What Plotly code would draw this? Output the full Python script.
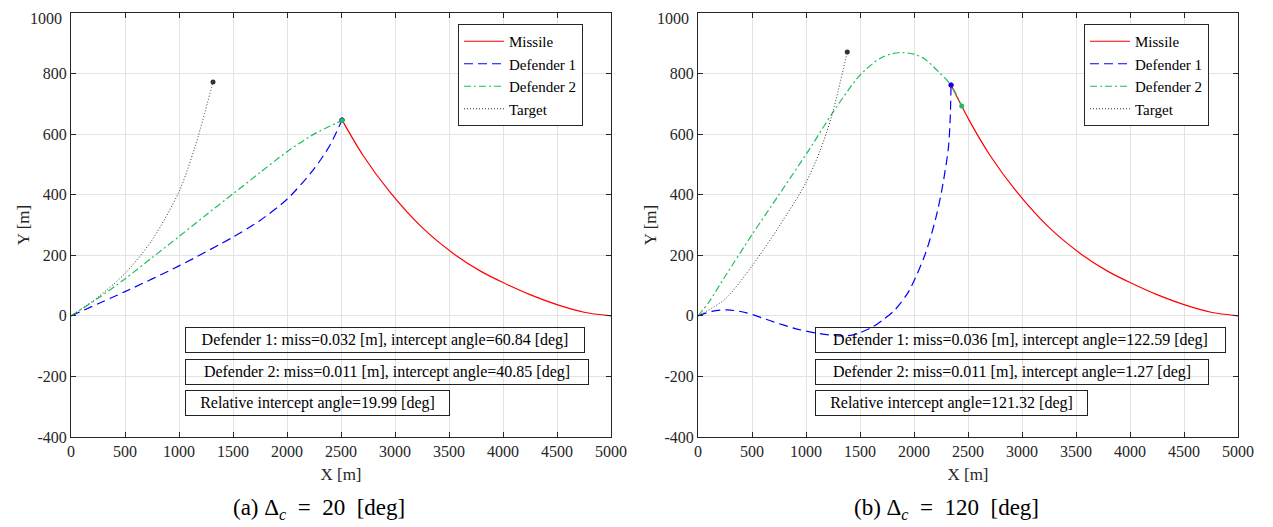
import plotly.graph_objects as go

# ---------------- data ----------------
# Missile trajectory (shared by both panels, truncated at the intercept)
missile_x = [2343, 2509, 2700, 2950, 3250, 3555, 3800, 4000, 4250, 4500, 4750, 5000]
missile_y = [762, 647, 532, 410, 292, 202, 146, 110, 70, 37, 12, 0]

# Panel (a): Delta_c = 20 deg
a_missile_x = missile_x[1:]
a_missile_y = missile_y[1:]
a_def1_x = [0, 500, 1000, 1500, 1750, 2000, 2250, 2400, 2509]
a_def1_y = [0, 80, 165, 260, 315, 385, 485, 565, 647]
a_def2_x = [0, 250, 500, 750, 1000, 1250, 1500, 1750, 2000, 2250, 2509]
a_def2_y = [0, 58, 122, 192, 262, 333, 403, 473, 542, 600, 645]
a_tgt_x = [0, 250, 500, 750, 1000, 1150, 1315]
a_tgt_y = [0, 62, 140, 250, 410, 560, 772]

# Panel (b): Delta_c = 120 deg
b_missile_x = missile_x
b_missile_y = missile_y
b_def1_x = [0, 130, 270, 450, 700, 900, 1083, 1300, 1435, 1600, 1713, 1824, 1950, 2100, 2200, 2260, 2318, 2335, 2343]
b_def1_y = [0, 15, 20, 10, -20, -42, -56, -66, -63, -40, -13, 20, 80, 200, 320, 420, 553, 650, 762]
b_def2_x = [0, 100, 250, 500, 750, 1037, 1253, 1500, 1685, 1800, 1901, 2000, 2100, 2241, 2343, 2442]
b_def2_y = [0, 45, 130, 268, 400, 553, 674, 795, 850, 866, 869, 864, 848, 801, 762, 693]
b_tgt_x = [0, 250, 500, 750, 1000, 1130, 1238, 1382]
b_tgt_y = [0, 55, 165, 295, 440, 545, 660, 871]

a_texts = ["Defender 1: miss=0.032 [m], intercept angle=60.84 [deg]",
           "Defender 2: miss=0.011 [m], intercept angle=40.85 [deg]",
           "Relative intercept angle=19.99 [deg]"]
b_texts = ["Defender 1: miss=0.036 [m], intercept angle=122.59 [deg]",
           "Defender 2: miss=0.011 [m], intercept angle=1.27 [deg]",
           "Relative intercept angle=121.32 [deg]"]
captions = ["(a)&nbsp;Δ<sub><i>c</i></sub>&nbsp;&nbsp;=&nbsp;&nbsp;20&nbsp;&nbsp;[deg]",
            "(b)&nbsp;Δ<sub><i>c</i></sub>&nbsp;&nbsp;=&nbsp;&nbsp;120&nbsp;&nbsp;[deg]"]
series_names = ["Missile", "Defender 1", "Defender 2", "Target"]
x_ticks = list(range(0, 5001, 500))
y_ticks = list(range(-400, 1001, 200))
# the top label (1000) is drawn separately so that it stays inside the page
y_ticktext = [str(v) if v != y_ticks[-1] else "" for v in y_ticks]

# ---------------- styling ----------------
OFF = 8                      # page body margin of the browser
W, H = 1273 - OFF, 527 - OFF
RED = "#ff0000"
BLUE = "#0000ff"
GREEN = "rgb(30,190,90)"
TGT = "#333333"
FONT = "Liberation Serif"
AX = "#262626"
PLOT_TOP, PLOT_BOT = 13, 437  # screen pixels of the plot area
PH = PLOT_BOT - PLOT_TOP

def px_x(p):
    return (p - OFF) / W

def px_y(p):
    return (PLOT_BOT - p) / PH

fig = go.Figure()

def add_panel(xa, ya, leg, mx, my, d1x, d1y, d2x, d2y, tx, ty):
    common = dict(xaxis=xa, yaxis=ya, legend=leg, mode="lines", hoverinfo="skip")
    fig.add_trace(go.Scatter(x=mx, y=my, name=series_names[0],
                             line=dict(color=RED, width=1.2, shape="spline", smoothing=0.8), **common))
    fig.add_trace(go.Scatter(x=d1x, y=d1y, name=series_names[1],
                             line=dict(color=BLUE, width=1.2, dash="9px,5px", shape="spline", smoothing=0.8), **common))
    fig.add_trace(go.Scatter(x=d2x, y=d2y, name=series_names[2],
                             line=dict(color=GREEN, width=1.2, dash="7px,3px,2px,3px", shape="spline", smoothing=0.8), **common))
    fig.add_trace(go.Scatter(x=tx, y=ty, name=series_names[3],
                             line=dict(color=TGT, width=1, dash="1px,2px", shape="spline", smoothing=0.8), **common))
    # end-point markers
    mk = dict(xaxis=xa, yaxis=ya, mode="markers", showlegend=False, hoverinfo="skip")
    fig.add_trace(go.Scatter(x=[mx[0]], y=[my[0]], marker=dict(color=RED, size=5), **mk))
    fig.add_trace(go.Scatter(x=[d1x[-1]], y=[d1y[-1]], marker=dict(color=BLUE, size=5), **mk))
    fig.add_trace(go.Scatter(x=[d2x[-1]], y=[d2y[-1]], marker=dict(color=GREEN, size=5), **mk))
    fig.add_trace(go.Scatter(x=[tx[-1]], y=[ty[-1]], marker=dict(color=TGT, size=5), **mk))

add_panel("x", "y", "legend", a_missile_x, a_missile_y, a_def1_x, a_def1_y,
          a_def2_x, a_def2_y, a_tgt_x, a_tgt_y)
add_panel("x2", "y2", "legend2", b_missile_x, b_missile_y, b_def1_x, b_def1_y,
          b_def2_x, b_def2_y, b_tgt_x, b_tgt_y)

axis_common = dict(showline=True, linecolor=AX, linewidth=1, mirror="ticks",
                   ticks="inside", ticklen=5, tickcolor=AX, showgrid=True,
                   gridcolor="#e3e3e3", gridwidth=1, zeroline=False, automargin=False,
                   ticklabeloverflow="allow",
                   tickfont=dict(family=FONT, size=16, color=AX))

xdoms = [[px_x(71), px_x(611)], [px_x(698), px_x(1238)]]
for i, (xn, yn) in enumerate([("xaxis", "yaxis"), ("xaxis2", "yaxis2")]):
    anchor_y = "y" if i == 0 else "y2"
    anchor_x = "x" if i == 0 else "x2"
    fig.layout[xn] = dict(domain=xdoms[i], range=[0, 5000], tickvals=x_ticks,
                          anchor=anchor_y,
                          title=dict(text="X [m]", font=dict(family=FONT, size=17, color=AX), standoff=8),
                          **axis_common)
    fig.layout[yn] = dict(domain=[0, 1], range=[-400, 1000], tickvals=y_ticks,
                          ticktext=y_ticktext, anchor=anchor_x,
                          title=dict(text="Y [m]", font=dict(family=FONT, size=17, color=AX), standoff=3),
                          **axis_common)
    # top tick label, kept inside the page
    fig.add_annotation(xref="paper", yref="paper", x=xdoms[i][0], xshift=-7,
                       y=px_y(OFF), xanchor="right", yanchor="top",
                       text=str(y_ticks[-1]), showarrow=False,
                       font=dict(family=FONT, size=16, color=AX))

leg_common = dict(bgcolor="white", bordercolor=AX, borderwidth=1,
                  font=dict(family=FONT, size=15, color="black"),
                  xanchor="right", yanchor="top", tracegroupgap=0, itemwidth=40)
fig.update_layout(
    width=W, height=H,
    margin=dict(l=0, r=0, t=PLOT_TOP - OFF, b=H - (PLOT_BOT - OFF), autoexpand=False),
    paper_bgcolor="white", plot_bgcolor="white",
    legend=dict(x=px_x(583), y=px_y(24), **leg_common),
    legend2=dict(x=px_x(1209), y=px_y(24), **leg_common),
)

# text boxes (transparent, as in the reference)
box_tops = [327, 359, 390]
a_widths = [400, 404, 265]
b_widths = [411, 394, 273]
for texts, x0, widths in [(a_texts, 185, a_widths), (b_texts, 815, b_widths)]:
    for t, top, w in zip(texts, box_tops, widths):
        fig.add_annotation(xref="paper", yref="paper", x=px_x(x0), y=px_y(top),
                           xanchor="left", yanchor="top", text=t, showarrow=False,
                           font=dict(family=FONT, size=16, color="black"),
                           bgcolor="rgba(0,0,0,0)", bordercolor="#222222", borderwidth=1,
                           borderpad=1, width=w - 4, height=22, align="center")

# captions
for cap, cx in zip(captions, [319, 946]):
    fig.add_annotation(xref="paper", yref="paper", x=px_x(cx), y=px_y(509),
                       xanchor="center", yanchor="middle", text=cap, showarrow=False,
                       font=dict(family=FONT, size=23, color="black"))

fig.write_html("out.html")
